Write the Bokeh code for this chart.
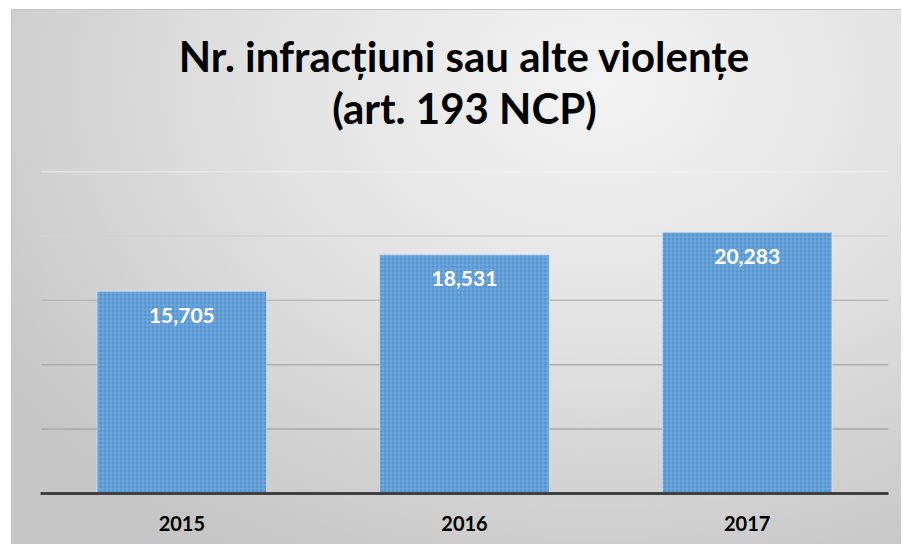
from bokeh.plotting import figure
from bokeh.models import Range1d, Span, Title, ColumnDataSource, FactorRange
from bokeh.embed import file_html
from bokeh.resources import INLINE
from bokeh.core.properties import value

# ---- data ----
years = ["2015", "2016", "2017"]
counts = [15705, 18531, 20283]
labels = ["15,705", "18,531", "20,283"]
grid_values = [5000, 10000, 15000, 20000, 25000]
grid_colors = ["#a8a8a8", "#adadad", "#b9b9b9", "#d2d2d2", "#f4f4f4"]
title_line1 = "Nr. infracțiuni sau alte violențe"
title_line2 = "(art. 193 NCP)"

FONT = "Lato"

src = ColumnDataSource(dict(x=years, top=counts, label=labels))

p = figure(
    x_range=FactorRange(*years, range_padding=0),
    y_range=Range1d(0, 25000),
    width=890, height=535,
    output_backend="svg", toolbar_location=None,
    min_border_left=28, min_border_right=14, min_border_bottom=52, min_border_top=161,
)
p.styles = {
    "margin-left": "11px",
    "margin-top": "9px",
    "background": "radial-gradient(ellipse 80% 100% at 66% 14%, #f3f3f3 0%, #e3e3e3 45%, #c6c6c6 100%)",
    "border-top": "1px solid #c4c4c4",
    "border-left": "1px solid #c4c4c4",
}
p.background_fill_alpha = 0
p.border_fill_alpha = 0
p.outline_line_color = None

# title panels are stacked outward from the plot: spacer, line 2, line 1
spacer = Title(text=" ", text_font=FONT, text_font_size="20px", standoff=13)
t2 = Title(text=title_line2, align="center", text_font=FONT, text_font_size="42px",
           text_font_style="bold", text_color="#000000", standoff=0)
t1 = Title(text=title_line1, align="center", text_font=FONT, text_font_size="42px",
           text_font_style="bold", text_color="#000000", standoff=0)
p.add_layout(spacer, "above")
p.add_layout(t2, "above")
p.add_layout(t1, "above")

p.xgrid.visible = False
p.ygrid.visible = False
p.yaxis.visible = False

for v, c in zip(grid_values, grid_colors):
    p.add_layout(Span(location=v, dimension="width", line_color=c, line_width=1.5, level="underlay"))

p.vbar(x="x", top="top", width=0.6, source=src,
       fill_color="#5596d3", line_color="#dbe8f5", line_width=1, line_alpha=0.7,
       hatch_pattern="+", hatch_color="#b0d0ee", hatch_alpha=0.55, hatch_scale=4, hatch_weight=0.6)

p.text(x="x", y="top", text="label", source=src, y_offset=24,
       text_align="center", text_baseline="middle",
       text_font=value(FONT), text_font_size="21px", text_font_style="bold",
       text_color="white")

ax = p.xaxis[0]
ax.axis_line_color = "#404040"
ax.axis_line_width = 3
ax.major_tick_line_color = None
ax.minor_tick_line_color = None
ax.major_label_text_font = FONT
ax.major_label_text_font_size = "20px"
ax.major_label_text_font_style = "bold"
ax.major_label_text_color = "#000000"
ax.major_label_standoff = 16

open("out.html", "w").write(file_html(p, INLINE))
